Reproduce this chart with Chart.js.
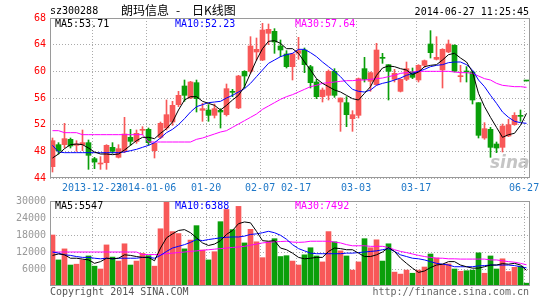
<!DOCTYPE html>
<html>
<head>
<meta charset="utf-8">
<script src="https://cdn.jsdelivr.net/npm/chart.js@4.4.1/dist/chart.umd.min.js"></script>
<style>
  body { margin: 0; background: #fff; width: 545px; height: 300px; position: relative; overflow: hidden;
         font-family: "DejaVu Sans Mono", monospace; font-size: 10px; }
  canvas { position: absolute; left: 0; }
  .t { position: absolute; white-space: nowrap; line-height: 12px; }
  .cjk { font-family: "Noto Sans CJK SC", sans-serif; font-size: 12px; line-height: 14px; }
</style>
</head>
<body>
<canvas id="price" width="545" height="196" style="top:0"></canvas>
<canvas id="vol" width="545" height="110" style="top:190px"></canvas>

<div class="t" style="left:50px;top:5px">sz300288</div>
<div class="t cjk" style="left:121px;top:3px">朗玛信息</div>
<div class="t cjk" style="left:176px;top:3px">-</div>
<div class="t cjk" style="left:192px;top:3px">日K线图</div>
<div class="t" style="right:16px;top:6px">2014-06-27 11:25:45</div>

<div class="t" style="left:55px;top:18px;color:#000">MA5:53.71</div>
<div class="t" style="left:175px;top:18px;color:#0000ff">MA10:52.23</div>
<div class="t" style="left:295px;top:18px;color:#ff00ff">MA30:57.64</div>

<div class="t" style="left:55px;top:200px;color:#000">MA5:5547</div>
<div class="t" style="left:175px;top:200px;color:#0000ff">MA10:6388</div>
<div class="t" style="left:295px;top:200px;color:#ff00ff">MA30:7492</div>

<div class="t" style="left:490px;top:152px;font:italic bold 17px 'DejaVu Sans',sans-serif;color:rgba(150,150,150,0.55)">sina</div>

<div class="t" style="left:50px;top:286px;color:#555">Copyright 2014 SINA.COM</div>
<div class="t" style="right:16px;top:286px;color:#666">http://finance.sina.com.cn</div>

<script>
// daily candles, 80 trading days (2013-12-13 .. 2014-06-27, with a trading halt)
const opens = [45.7,49.0,49.0,49.8,48.9,49.0,49.3,46.9,46.1,46.3, 48.6,47.1,48.0,50.1,49.5,51.15,51.3,48.1,50.1,51.5,
  52.4,55.0,57.8,56.0,58.3,54.15,54.2,53.4,54.15,53.5, 56.9,54.5,60.0,60.0,62.9,61.7,65.7,66.0,63.8,62.6,
  60.7,62.7,63.2,60.7,58.4,56.2,56.4,60.0,55.4,55.3, 52.9,53.4,60.4,58.5,58.0,62.0,61.0,58.8,57.0,58.8,
  59.9,58.7,60.9,64.1,61.8,60.2,62.9,63.9,59.2,60.0, 59.9,55.3,50.0,51.3,49.1,48.6,50.3,52.0,53.3,58.55];
const highs = [50.0,49.3,52.2,50.0,49.6,51.2,49.7,47.1,47.2,49.0, 49.3,49.0,53.1,51.3,51.2,51.7,51.5,49.2,52.4,55.7,
  55.5,57.0,58.7,58.5,58.7,55.2,55.0,55.1,54.4,58.1, 57.3,59.4,60.1,65.2,65.0,67.2,67.1,66.4,64.7,63.1,
  62.7,65.1,63.5,60.9,58.8,57.5,60.2,60.4,56.0,56.2, 54.1,59.0,62.1,59.9,64.2,62.7,61.0,60.3,58.9,61.4,
  60.5,61.0,61.7,66.1,65.2,63.4,64.7,64.0,60.9,60.7, 60.0,55.3,52.3,51.6,49.4,52.1,52.8,53.8,54.2,58.55];
const lows = [44.9,47.6,48.5,48.5,48.0,48.1,45.3,45.4,45.3,45.3, 47.7,47.0,47.8,48.9,49.2,50.5,48.9,47.0,49.9,51.2,
  51.9,54.7,55.5,55.9,53.9,52.5,52.5,53.0,51.5,53.3, 56.2,54.4,57.5,59.7,61.7,61.6,64.0,62.7,62.2,60.5,
  58.7,61.8,59.8,57.5,55.9,55.4,55.7,56.1,51.0,51.7, 51.0,53.0,58.4,57.0,57.9,61.2,55.7,58.4,56.9,58.6,
  58.9,58.4,60.6,62.0,61.7,57.5,62.8,59.9,58.4,58.4, 55.1,50.0,49.8,47.1,47.8,47.9,50.2,51.9,52.5,58.55];
const closes = [49.6,48.1,49.9,48.8,49.1,49.3,47.4,46.4,46.2,48.9, 48.0,48.4,50.6,49.5,50.7,51.2,49.3,49.2,52.2,53.5,
  54.9,56.4,56.4,58.4,55.9,54.4,53.4,54.4,53.9,57.4, 56.85,59.3,59.3,63.8,63.3,66.2,66.3,64.4,63.2,60.7,
  62.6,63.1,61.0,58.3,56.2,57.2,60.0,56.4,56.0,53.5, 53.5,58.9,58.8,59.8,63.2,61.95,60.0,59.7,58.8,60.4,
  59.1,60.9,61.6,62.8,62.1,63.3,64.1,60.0,59.35,59.9, 55.7,50.4,51.4,48.6,48.5,51.8,52.0,53.4,53.25,58.55];

const ma5 = [47.0,47.6,48.4,49.0,49.1,49.0,48.5,47.9,47.6,47.6, 47.5,47.6,48.2,48.9,49.6,50.1,50.1,49.9,50.7,51.4,
  52.4,54.2,55.7,56.2,56.2,55.5,55.2,54.9,54.2,54.9, 55.7,56.4,57.7,59.7,61.7,63.4,64.5,64.6,64.2,63.4,
  63.4,62.7,61.4,60.2,58.9,58.2,57.7,57.2,56.9,56.4, 55.9,55.7,56.7,57.7,59.4,60.5,60.8,60.7,60.4,60.2,
  59.5,59.9,60.7,60.9,61.0,61.7,62.5,62.7,62.0,61.4, 59.9,56.7,54.7,53.1,51.6,50.1,50.5,50.7,51.9,53.7];
const ma10 = [48.9,47.9,47.8,47.8,47.8,47.8,47.8,47.8,47.8,47.8, 47.8,47.8,47.9,48.1,48.3,48.6,48.9,49.3,50.0,50.8,
  51.3,52.0,52.9,53.9,54.7,55.0,55.3,55.4,55.5,56.0, 56.4,56.9,57.4,58.2,59.2,60.2,61.2,61.7,62.2,62.5,
  62.7,63.3,63.3,62.8,62.2,61.4,60.7,60.0,59.2,58.2, 57.3,57.0,56.9,57.2,57.9,58.2,58.4,58.7,59.0,59.4,
  59.7,60.0,60.3,60.7,60.9,61.0,61.3,61.4,61.4,61.0, 60.2,58.7,57.7,56.4,55.2,53.9,53.1,52.5,52.3,52.2];
const ma30 = [51.1,51.1,50.8,50.8,50.8,50.5,50.5,50.5,50.5,50.5, 50.5,50.5,50.5,50.5,50.5,50.5,49.4,49.4,49.4,49.4,
  49.4,49.4,49.4,49.4,49.8,50.0,50.3,50.6,50.9,51.1, 51.6,52.1,52.6,53.1,53.6,54.3,54.8,55.3,55.8,56.2,
  56.5,56.9,57.3,57.7,57.9,58.2,58.3,58.4,58.5,58.6, 58.6,58.7,58.7,58.8,58.9,59.0,59.2,59.4,59.7,59.8,
  59.9,60.0,60.0,60.0,60.0,60.0,60.0,59.9,59.8,59.8, 59.7,59.3,58.9,58.7,58.2,57.9,57.8,57.7,57.7,57.6];

const vols = [18000,9200,13100,7400,7700,9200,10600,7000,6000,14500, 10200,8800,14900,7400,8800,11500,10700,7000,20200,29600,
  19200,18500,13100,16200,21300,12700,9200,12100,22700,27000, 19900,28100,15200,20000,15600,10000,15600,16700,10400,10700,
  8800,7400,11000,13500,10600,8500,19200,15600,12400,10600, 5600,8500,16700,13500,16300,8800,14900,4900,4200,5600,
  4500,5600,6700,11300,9900,7500,7800,6000,5200,5400, 5600,11700,4500,10600,6000,9600,5100,6600,7000,1000];
const vma5 = [10800,11300,11000,9800,9800,9500,9200,8000,8600,9800, 9600,9800,11000,10800,10400,10100,10100,8900,13400,17000,
  18400,19600,19900,18800,17000,15200,14300,14800,16000,18200, 19600,22000,22600,22300,19300,16000,15800,16000,13400,12800,
  11600,10100,9600,9800,10100,10100,12200,13400,13200,12800, 12800,11600,10400,10400,11000,12000,13600,12200,9800,8000,
  6300,4800,5300,6500,7400,7700,8600,8600,7400,6800, 6300,6300,6800,7400,7400,7900,7700,8000,7400,5500];
const vma10 = [12000,11600,11000,10800,10400,10100,10100,9800,9600,9800, 9600,9800,9800,9800,9800,10100,10100,9800,10800,12200,
  13400,14000,14600,15400,16400,16000,16400,16700,17000,17200, 17300,17300,17600,18200,18400,18800,19300,18800,17900,16500,
  14600,13200,12400,11600,11400,11400,11400,11400,11400,11600, 11600,11800,12000,12200,12400,12800,13200,12200,11000,10400,
  9800,9600,9200,8600,8000,7700,7400,6800,6800,6800, 6800,7100,7200,7400,7400,7400,7400,7200,6800,6400];
const vma30 = [12000,12000,12000,12000,12000,12000,12000,12000,12000,12000, 12000,12000,12000,12000,12000,11100,11100,11100,11100,11400,
  11600,11800,12000,12200,12400,12600,12800,13000,13200,13400, 13600,13800,14000,14400,14800,15200,15400,15600,15700,15800,
  15500,15400,15500,15800,15800,15800,15800,15500,15200,14600, 14200,14200,14200,14000,14000,14000,13600,12800,12200,11800,
  11300,10800,10400,10100,9800,9800,9600,9600,9500,9500, 9500,9500,9500,9200,9200,8900,8600,8400,8000,7500];

const tickDays = [8, 17, 27, 36, 42, 52, 62, 80];
const tickLabels = ["2013-12-23", "2014-01-06", "01-20", "02-07", "02-17", "03-03", "03-17", "06-27"];
const priceTicks = [44, 48, 52, 56, 60, 64, 68];
const volTicks = [6000, 12000, 18000, 24000, 30000];

const RED = "#f85858";
const GREEN = "#0a9f0a";
const colors = opens.map((o, i) => closes[i] > o ? RED : GREEN);
const xy = arr => arr.map((y, i) => ({ x: i + 1, y }));

const X_MIN = 0.5 + 0.5 / 6;
const X_MAX = X_MIN + 80;

Chart.defaults.font.family = "'DejaVu Sans Mono', monospace";
Chart.defaults.font.size = 10;

const frame = {
  id: "frame",
  afterDraw(chart) {
    const a = chart.chartArea, ctx = chart.ctx;
    ctx.save();
    ctx.strokeStyle = "#9a9a9a";
    ctx.lineWidth = 1;
    ctx.strokeRect(a.left + 0.5, a.top + 0.5, a.right - a.left - 1, a.bottom - a.top - 1);
    ctx.restore();
  }
};

function xAxis(showLabels) {
  return {
    type: "linear", bounds: "data", offset: false, min: X_MIN, max: X_MAX,
    afterBuildTicks: s => { s.ticks = tickDays.map(d => ({ value: d - 0.4 })); },
    afterFit: s => { s.height = showLabels ? 18 : 0; },
    grid: { color: "#aaa", drawTicks: false, offset: false },
    border: { display: false, dash: [1, 2] },
    ticks: {
      display: showLabels, autoSkip: false, maxRotation: 0, padding: 4, color: "#1f78c8",
      callback: (v, i) => tickLabels[i]
    }
  };
}

function lineSet(data, color) {
  return { type: "line", data: xy(data), borderColor: color, borderWidth: 1,
           pointRadius: 0, tension: 0, order: 0 };
}

const common = {
  responsive: false, animation: false, devicePixelRatio: 1, events: [],
  plugins: { legend: { display: false }, tooltip: { enabled: false } }
};

new Chart(document.getElementById("price"), {
  type: "bar",
  data: {
    datasets: [
      lineSet(ma5, "#000000"),
      lineSet(ma10, "#0000ff"),
      lineSet(ma30, "#ff00ff"),
      { data: opens.map((o, i) => ({ x: i + 1, y: [o, closes[i]] })), backgroundColor: colors,
        barThickness: 5, minBarLength: 1, grouped: false, order: 1 },
      { data: lows.map((l, i) => ({ x: i + 1, y: [l, highs[i]] })), backgroundColor: colors,
        barThickness: 1, grouped: false, order: 2 }
    ]
  },
  options: {
    ...common,
    layout: { padding: { top: 18, right: 15, left: 0, bottom: 0 } },
    scales: {
      x: xAxis(true),
      y: {
        min: 44, max: 68,
        afterBuildTicks: s => { s.ticks = priceTicks.map(v => ({ value: v })); },
        afterFit: s => { s.width = 50; },
        grid: { color: "#aaa", drawTicks: false },
        border: { display: false, dash: [1, 2] },
        ticks: { color: "#ff0000", padding: 4, callback: v => String(v) }
      }
    }
  },
  plugins: [frame]
});

new Chart(document.getElementById("vol"), {
  type: "bar",
  data: {
    datasets: [
      lineSet(vma5, "#000000"),
      lineSet(vma10, "#0000ff"),
      lineSet(vma30, "#ff00ff"),
      { data: xy(vols), backgroundColor: colors, barThickness: 5, grouped: false, order: 1 }
    ]
  },
  options: {
    ...common,
    layout: { padding: { top: 11, right: 15, left: 0, bottom: 14 } },
    scales: {
      x: xAxis(false),
      y: {
        min: 0, max: 30000,
        afterBuildTicks: s => { s.ticks = volTicks.map(v => ({ value: v })); },
        afterFit: s => { s.width = 50; },
        grid: { color: "#aaa", drawTicks: false },
        border: { display: false, dash: [1, 2] },
        ticks: { color: "#999", padding: 4, callback: v => String(v) }
      }
    }
  },
  plugins: [frame]
});
</script>
</body>
</html>
